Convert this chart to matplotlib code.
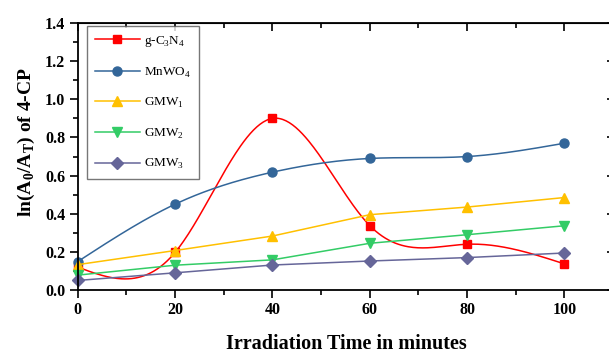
import matplotlib
matplotlib.use('Agg')
import matplotlib.pyplot as plt
import numpy as np
from matplotlib.ticker import MultipleLocator

# data
time = [0, 20, 40, 60, 80, 100]
g_c3n4 = [0.12, 0.197, 0.90, 0.338, 0.24, 0.137]
mnwo4 = [0.149, 0.45, 0.618, 0.69, 0.70, 0.77]
gmw1 = [0.133, 0.207, 0.283, 0.395, 0.435, 0.485]
gmw2 = [0.078, 0.13, 0.158, 0.245, 0.29, 0.337]
gmw3 = [0.05, 0.09, 0.131, 0.152, 0.17, 0.194]

labels = ['g-C$_3$N$_4$', 'MnWO$_4$', 'GMW$_1$', 'GMW$_2$', 'GMW$_3$']
colors = ['#ff0000', '#336699', '#ffc000', '#33cc66', '#666699']
markers = ['s', 'o', '^', 'v', 'D']
msizes = [6, 6.5, 7.5, 7.5, 6]
smooth = [True, True, False, False, False]


def spline(x, y, n=300):
    # natural cubic spline, just to draw the connecting curve
    x = np.asarray(x, float)
    y = np.asarray(y, float)
    k = len(x)
    h = np.diff(x)
    A = np.zeros((k, k))
    b = np.zeros(k)
    A[0, 0] = A[-1, -1] = 1
    for i in range(1, k - 1):
        A[i, i - 1] = h[i - 1]
        A[i, i] = 2 * (h[i - 1] + h[i])
        A[i, i + 1] = h[i]
        b[i] = 3 * ((y[i + 1] - y[i]) / h[i] - (y[i] - y[i - 1]) / h[i - 1])
    c = np.linalg.solve(A, b)
    xs = np.linspace(x[0], x[-1], n)
    idx = np.clip(np.searchsorted(x, xs) - 1, 0, k - 2)
    dx = xs - x[idx]
    bb = (y[idx + 1] - y[idx]) / h[idx] - h[idx] * (2 * c[idx] + c[idx + 1]) / 3
    d = (c[idx + 1] - c[idx]) / (3 * h[idx])
    ys = y[idx] + bb * dx + c[idx] * dx ** 2 + d * dx ** 3
    return xs, ys


plt.rcParams['font.family'] = ['Liberation Serif', 'DejaVu Serif']
plt.rcParams['mathtext.fontset'] = 'custom'
plt.rcParams['mathtext.rm'] = 'Liberation Serif'
plt.rcParams['mathtext.bf'] = 'Liberation Serif:bold'

fig = plt.figure(figsize=(6.09, 3.53), dpi=100)
ax = fig.add_axes([0.1276, 0.1785, 0.8823, 0.756])

series = [g_c3n4, mnwo4, gmw1, gmw2, gmw3]
for vals, lab, col, mk, ms, sm in zip(series, labels, colors, markers, msizes, smooth):
    if sm:
        xs, ys = spline(time, vals)
    else:
        xs, ys = time, vals
    ax.plot(xs, ys, color=col, lw=1.1, clip_on=False)
    ax.plot(time, vals, color=col, lw=0, marker=mk, ms=ms, clip_on=False)
    ax.plot([], [], color=col, lw=1.1, marker=mk, ms=ms, label=lab)

ax.set_xlim(0, 110.4)
ax.set_ylim(0, 1.4)
ax.xaxis.set_major_locator(MultipleLocator(20))
ax.xaxis.set_minor_locator(MultipleLocator(10))
ax.yaxis.set_major_locator(MultipleLocator(0.2))
ax.yaxis.set_minor_locator(MultipleLocator(0.1))
ax.set_xticks([0, 20, 40, 60, 80, 100])
ax.set_yticklabels(['%.1f' % v for v in ax.get_yticks()])

for s in ax.spines.values():
    s.set_linewidth(1.3)

ax.tick_params(which='both', direction='out', width=1.2, labelsize=11.5, pad=3)
ax.tick_params(which='major', length=6)
ax.tick_params(which='minor', length=3.5)
for t in ax.get_xticklabels() + ax.get_yticklabels():
    t.set_fontweight('bold')

# inward ticks on top and right
ax2 = ax.secondary_xaxis('top')
ax2.xaxis.set_major_locator(MultipleLocator(20))
ax2.xaxis.set_minor_locator(MultipleLocator(10))
ax2.tick_params(which='both', direction='in', width=1.2, labeltop=False)
ax2.tick_params(which='major', length=6)
ax2.tick_params(which='minor', length=3.5)
ax3 = ax.secondary_yaxis('right')
ax3.yaxis.set_major_locator(MultipleLocator(0.2))
ax3.tick_params(which='both', direction='in', width=1.2, labelright=False, length=6)

ax.set_xlabel('Irradiation Time in minutes', fontsize=14.5, fontweight='bold', labelpad=11)
fig.text(26 / 609, 1 - 142 / 353, r'ln(A$_{\mathbf{0}}$/A$_{\mathbf{T}}$) of 4-CP', fontsize=14,
         fontweight='bold', rotation=90, ha='center', va='center')

leg = ax.legend(loc='upper left', bbox_to_anchor=(87 / 609, 1 - 26 / 353), bbox_transform=fig.transFigure,
                fontsize=9.5, frameon=True, fancybox=False, labelspacing=1.25, handlelength=3.4,
                handletextpad=0.3, borderpad=0.6, borderaxespad=0)
leg.get_frame().set_edgecolor('#555555')
leg.get_frame().set_linewidth(1.0)

fig.savefig('out.png', dpi=100)
